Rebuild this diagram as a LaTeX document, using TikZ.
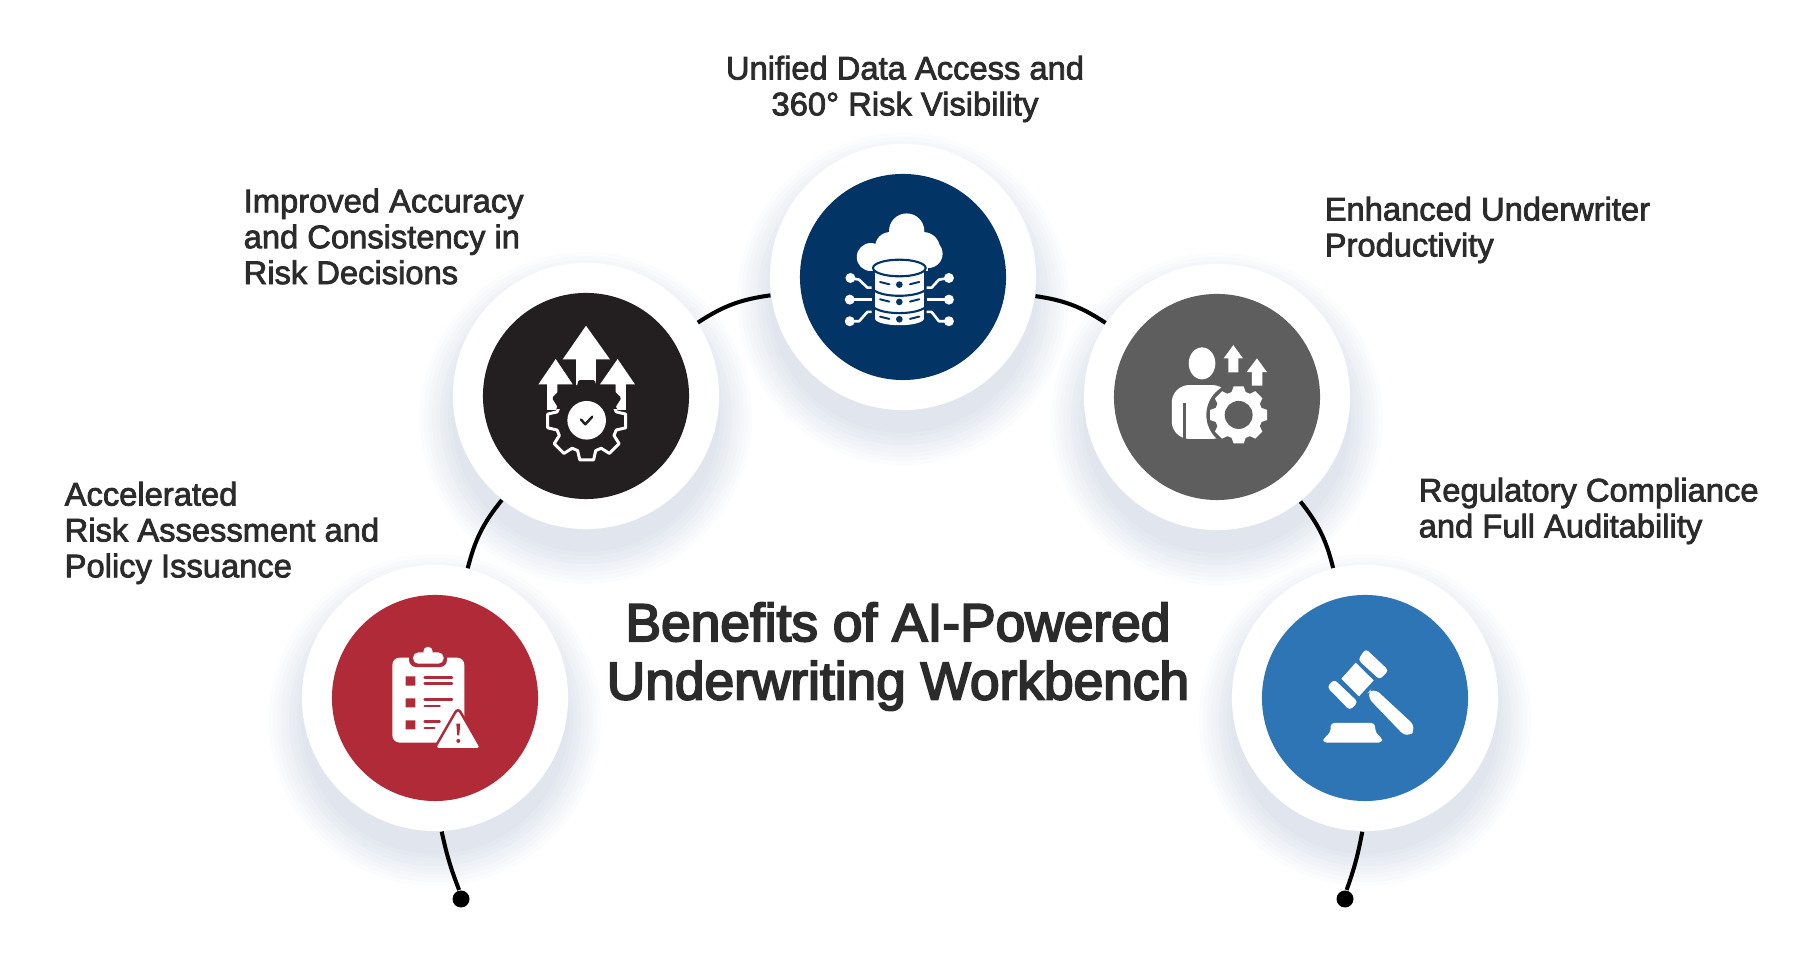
\documentclass[tikz,border=0pt]{standalone}
\usepackage{fontspec}
\setmainfont[AutoFakeBold=2.4]{Liberation Sans}
\newfontfamily\titlefont[FakeBold=3.6]{Liberation Sans}
\usetikzlibrary{positioning}
\definecolor{navyblue}{RGB}{2, 52, 102}
\definecolor{charcoal}{RGB}{35, 31, 32}
\definecolor{slategrey}{RGB}{94, 94, 94}
\definecolor{crimson}{RGB}{176, 42, 55}
\definecolor{steelblue}{RGB}{46, 117, 182}
\definecolor{inktext}{RGB}{43, 43, 43}
\definecolor{haze}{RGB}{120, 145, 180}
\pgfdeclarelayer{haze}
\pgfdeclarelayer{link}
\pgfsetlayers{haze,link,main}
\newcommand{\gearblock}[4]{\path[#1, shift={(#2)}] (-17:#3) \foreach \ang in {0,45,...,315} {-- (\ang-17:#3) -- (\ang-10:#4) -- (\ang+10:#4) -- (\ang+17:#3)} -- cycle;}

\begin{document}
\begin{tikzpicture}[
    x=0.01cm, y=0.01cm,
    ring/.style={circle, fill=white, minimum size=2.66cm, inner sep=0pt},
    disc/.style={circle, minimum size=2.06cm, inner sep=0pt},
    label/.style={text=inktext, font=\fontsize{9.3}{10.2}\selectfont\bfseries, align=left, inner sep=0pt},
    link/.style={line width=1.15pt, black},
    iconframe/.style n args={3}{shift={(#1.center)}, x=0.003333cm, y=-0.003333cm, shift={(-#2,-#3)}},
    trace/.style={draw=white, line width=0.75pt, line join=round}
]
\useasboundingbox (0,0) rectangle (1800,970);

% Rings
\node[ring] (red) at (435,272) {};
\node[ring] (dark) at (586,574) {};
\node[ring] (navy) at (903,693) {};
\node[ring] (grey) at (1217,573) {};
\node[ring] (blue) at (1365,272) {};

% Discs
\node[disc, fill=crimson] (reddisc) at (red) {};
\node[disc, fill=charcoal] (darkdisc) at (dark) {};
\node[disc, fill=navyblue] (navydisc) at (navy) {};
\node[disc, fill=slategrey] (greydisc) at (grey) {};
\node[disc, fill=steelblue] (bluedisc) at (blue) {};

% End dots
\node[circle, fill=black, minimum size=0.17cm, inner sep=0pt] (startdot) at (461,71) {};
\node[circle, fill=black, minimum size=0.17cm, inner sep=0pt] (enddot) at (1345,71) {};

% Soft shadows
\begin{pgfonlayer}{haze}
\foreach \ringname in {red,dark,navy,grey,blue} {
    \foreach \rad in {134,138,...,166} {
        \fill[haze, opacity=0.026] ([yshift=-0.22cm]\ringname.center) circle (\rad);
    }
}
\end{pgfonlayer}

% Arc
\begin{pgfonlayer}{link}
\draw[link] (startdot) to[bend left=4.5] (red);
\draw[link] (red) to[bend left=12.4] (dark);
\draw[link] (dark) to[bend left=12.7] (navy);
\draw[link] (navy) to[bend left=12.7] (grey);
\draw[link] (grey) to[bend left=12.4] (blue);
\draw[link] (blue) to[bend left=4.5] (enddot);
\end{pgfonlayer}

% Cloud database
\begin{scope}[iconframe={navy}{369}{410}]
\foreach \cx/\cy/\rad in {272/350/42, 330/320/45, 380/272/53, 445/340/43, 430/325/50} {
    \fill[white] (\cx,\cy) circle (\rad);
}
\fill[white] (272,340) rectangle (445,392);
\fill[white] (340,300) rectangle (420,345);
\fill[white] (285,385) -- (285,535) arc[start angle=180, end angle=360, x radius=73.5, y radius=-20] -- (432,385) -- cycle;
\draw[navyblue, line width=0.6pt] (282,450) .. controls (310,472) and (405,472) .. (435,450);
\draw[navyblue, line width=0.6pt] (282,502) .. controls (310,524) and (405,524) .. (435,502);
\draw[navyblue, fill=white, line width=0.6pt] (358,383) ellipse[x radius=79, y radius=25];
\fill[navyblue] (358,433) circle (10) (358,485) circle (10) (358,537) circle (10);
\foreach \slot in {425,477,529} {
    \draw[navyblue, line width=0.55pt, line cap=round] (300,\slot) -- (328,\slot+7);
    \draw[navyblue, line width=0.55pt, line cap=round] (418,\slot) -- (390,\slot+7);
}
\draw[trace] (211,413) -- (237,418) -- (262,442) -- (275,442);
\draw[trace] (209,478) -- (275,478);
\draw[trace] (209,543) -- (237,543) -- (262,515) -- (275,515);
\draw[trace] (507,413) -- (477,418) -- (455,442) -- (440,442);
\draw[trace] (507,478) -- (440,478);
\draw[trace] (507,543) -- (477,543) -- (455,515) -- (440,515);
\fill[white] (211,413) circle (15) (209,478) circle (15) (209,543) circle (15) (507,413) circle (15) (507,478) circle (15) (507,543) circle (15);
\end{scope}

% Arrows and gear
\begin{scope}[iconframe={dark}{348}{378}]
\fill[white] (348,167) -- (420,268) -- (378,268) -- (378,345) -- (318,345) -- (318,268) -- (278,268) -- cycle;
\fill[white] (257,267) -- (308,343) -- (262,343) -- (262,420) -- (231,420) -- (231,343) -- (205,343) -- cycle;
\fill[white] (443,267) -- (495,343) -- (468,343) -- (468,420) -- (437,420) -- (437,343) -- (390,343) -- cycle;
\gearblock{draw=charcoal, fill=charcoal, line width=1pt, line join=round}{350,453}{93}{119}
\begin{scope}
\clip (200,420) rectangle (500,600);
\gearblock{draw=white, line width=0.85pt, line join=round}{350,453}{93}{119}
\end{scope}
\fill[white] (350,451) circle (58);
\draw[charcoal, line width=0.7pt, line cap=round, line join=round] (333,449) -- (346,463) -- (367,440);
\end{scope}

% Person and gear
\begin{scope}[iconframe={grey}{382}{381}]
\fill[white] (337,280) ellipse[x radius=40, y radius=48];
\fill[white, rounded corners=5pt] (246,507) -- (246,345) -- (420,345) -- (420,507) -- cycle;
\fill[slategrey] (280,400) rectangle (288,510);
\fill[slategrey] (447,435) circle (97);
\fill[slategrey] (420,507) rectangle (400,530);
\gearblock{fill=white}{447,435}{72}{87}
\fill[slategrey] (447,435) circle (42);
\fill[white] (431,225) -- (460,265) -- (446,265) -- (446,307) -- (416,307) -- (416,265) -- (402,265) -- cycle;
\fill[white] (502,265) -- (532,306) -- (518,306) -- (518,347) -- (487,347) -- (487,306) -- (471,306) -- cycle;
\end{scope}

% Clipboard and warning
\begin{scope}[iconframe={red}{344}{383}]
\fill[white, rounded corners=2pt] (216,262) rectangle (432,517);
\fill[crimson, rounded corners=2pt] (266,240) rectangle (380,290);
\fill[white, rounded corners=1.5pt] (278,246) rectangle (370,280);
\fill[white] (323,243) circle (14);
\fill[crimson] (256,318) rectangle (285,346) (256,384) rectangle (285,411) (256,450) rectangle (285,477);
\foreach \xa/\xb/\ya in {313/395/322, 313/395/340, 313/395/387, 313/358/407, 313/358/454, 313/342/473} {
    \draw[crimson, line width=0.7pt, line cap=round] (\xa,\ya) -- (\xb,\ya);
}
\draw[crimson, fill=white, line width=0.7pt, line join=round, rounded corners=1.5pt] (413,412) -- (485,537) -- (341,537) -- cycle;
\fill[crimson] (408,460) -- (420,460) -- (417,495) -- (411,495) -- cycle;
\fill[crimson] (414,512) circle (6);
\end{scope}

% Gavel
\begin{scope}[iconframe={blue}{376}{383}]
\fill[white] (348,277) -- (402,330) -- (358,378) -- (305,325) -- cycle;
\fill[white, rounded corners=1pt] (378,235) -- (447,300) -- (420,328) -- (355,268) -- cycle;
\fill[white, rounded corners=1pt] (283,327) -- (355,395) -- (330,420) -- (262,350) -- cycle;
\fill[white, rounded corners=2.5pt] (400,350) -- (532,472) -- (503,505) -- (378,375) -- cycle;
\fill[white, rounded corners=1pt] (250,517) -- (252,503) -- (272,488) -- (273,458) -- (405,458) -- (408,488) -- (427,503) -- (428,517) -- cycle;
\end{scope}

% Labels
\node[label, align=center] (navytext) at (905,881) {Unified Data Access and\\360° Risk Visibility};
\node[label, anchor=west] (darktext) at (243,733.5) {Improved Accuracy\\and Consistency in\\Risk Decisions};
\node[label, anchor=west] (greytext) at (1324,740) {Enhanced Underwriter\\Productivity};
\node[label, anchor=west] (redtext) at (64,437) {Accelerated\\Risk Assessment and\\Policy Issuance};
\node[label, anchor=west] (bluetext) at (1418,459) {Regulatory Compliance\\and Full Auditability};

% Title
\node[text=inktext, font=\fontsize{15.15}{16.6}\titlefont, align=center, inner sep=0pt] (title) at (898,313.5) {Benefits of AI-Powered\\Underwriting Workbench};
\end{tikzpicture}
\end{document}
